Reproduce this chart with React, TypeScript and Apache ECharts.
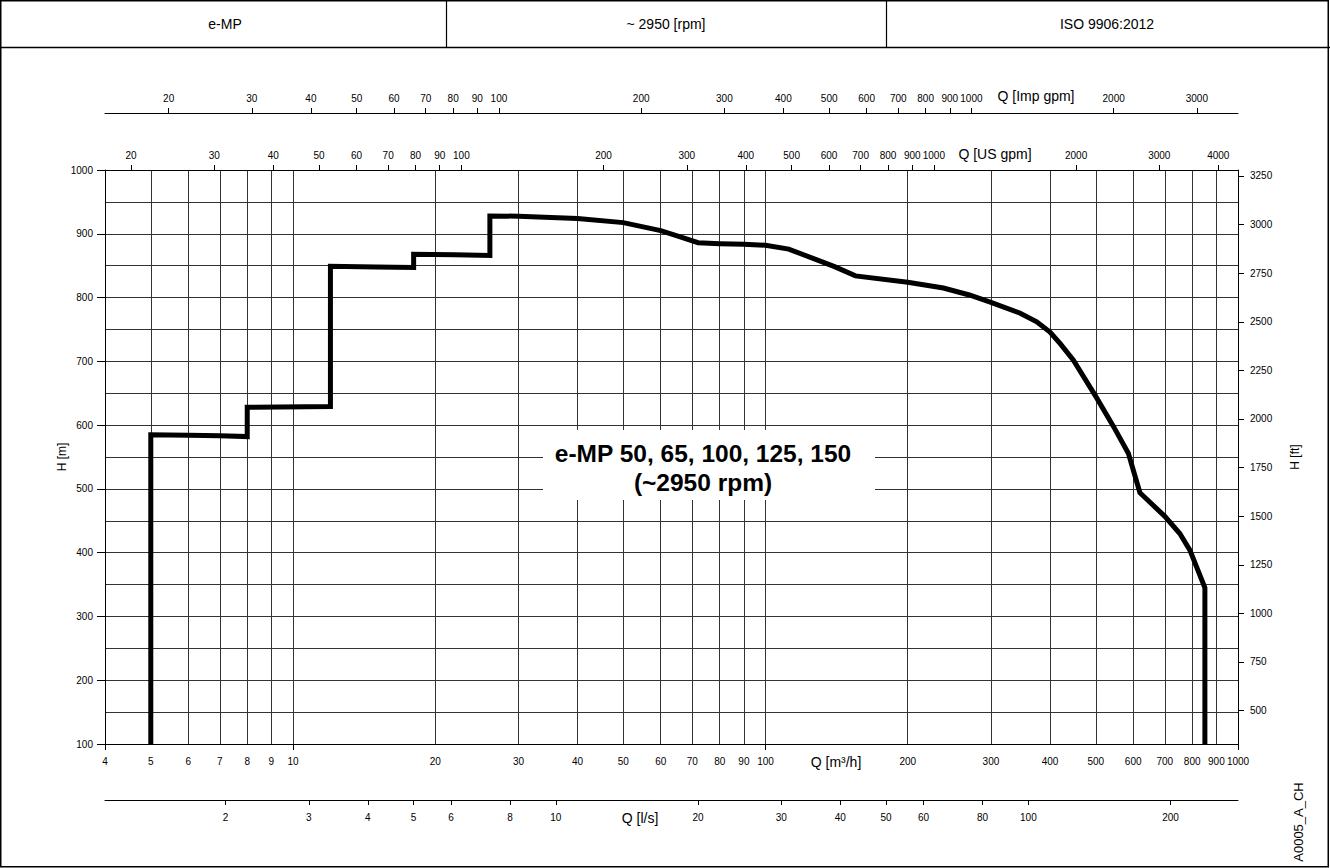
import { useEffect, useRef } from "react";
import * as echarts from "echarts";

const FONT = '"Liberation Sans", Arial, Helvetica, sans-serif';

// unit conversions (from m3/h and m)
const M3H_TO_USGPM = 4.40287;
const M3H_TO_IMPGPM = 3.66615;
const M3H_TO_LS = 1 / 3.6;
const M_TO_FT = 3.28084;

const qMin = 4;
const qMax = 1000;
const hMin = 100;
const hMax = 1000;

const headerTitles = ["e-MP", "~ 2950 [rpm]", "ISO 9906:2012"];

// m3/h grid and labels
const m3hGrid = [5, 6, 7, 8, 9, 10, 20, 30, 40, 50, 60, 70, 80, 90, 100, 200, 300, 400, 500, 600, 700, 800, 900];
const m3hLabels = [4, 5, 6, 7, 8, 9, 10, 20, 30, 40, 50, 60, 70, 80, 90, 100, 200, 300, 400, 500, 600, 700, 800, 900, 1000];
const m3hMajorTicks = [4, 10, 100, 1000];
const usGpmTicks = [20, 30, 40, 50, 60, 70, 80, 90, 100, 200, 300, 400, 500, 600, 700, 800, 900, 1000, 2000, 3000, 4000];
const impGpmTicks = [20, 30, 40, 50, 60, 70, 80, 90, 100, 200, 300, 400, 500, 600, 700, 800, 900, 1000, 2000, 3000];
const lsTicks = [2, 3, 4, 5, 6, 8, 10, 20, 30, 40, 50, 60, 80, 100, 200];
const ftTicks = [500, 750, 1000, 1250, 1500, 1750, 2000, 2250, 2500, 2750, 3000, 3250];

// envelope curve: Q [m3/h], H [m]
const flowQ = [
  5, 5, 6, 7, 8, 8, 12, 12, 15, 18, 18, 22, 26.1, 26.1, 30, 40, 50, 60, 65.5, 72, 80, 90, 100, 112, 140, 155,
  200, 238, 270, 300, 346, 375, 400, 420, 448, 500, 545, 586, 600, 620, 700, 753, 791, 851, 851,
];
const headH = [
  100, 585, 584, 583.5, 582, 628, 629, 849, 848, 847, 868, 867, 866, 928, 927.5, 924, 917.5, 905, 896, 886, 884.5,
  883.5, 882, 876, 848.5, 834, 824, 815, 804, 792.5, 775.5, 762, 746, 728, 702, 645, 598, 556, 530, 494, 457, 430,
  404, 345, 100,
];

const labelTitle = ["e-MP 50, 65, 100, 125, 150", "(~2950 rpm)"];
const unitLabels = {
  m3h: "Q [m³/h]",
  ls: "Q [l/s]",
  us: "Q [US gpm]",
  imp: "Q [Imp gpm]",
};

const fmt = (v: number) => String(Math.round(v));

export default function App() {
  const ref = useRef<HTMLDivElement>(null);

  useEffect(() => {
    if (!ref.current) return;
    const chart = echarts.init(ref.current, null, { renderer: "svg" });

    const axisLine = { show: true, lineStyle: { color: "#000", width: 1 } };
    const gridLine = { show: true, lineStyle: { color: "#333", width: 1, type: "solid" as const } };
    const tickLabel = { color: "#000", fontSize: 10, fontFamily: FONT };

    const option: any = {
      animation: false,
      textStyle: { fontFamily: FONT },
      grid: {
        left: 105,
        right: 92,
        top: 170,
        bottom: 124,
        containLabel: false,
        outerBoundsMode: "none",
      },
      xAxis: [
        {
          type: "log",
          min: qMin,
          max: qMax,
          position: "bottom",
          axisLine,
          axisTick: { show: false, customValues: m3hGrid },
          axisLabel: { ...tickLabel, margin: 12, customValues: m3hLabels, formatter: fmt },
          splitLine: gridLine,
        },
        {
          type: "log",
          min: qMin * M3H_TO_USGPM,
          max: qMax * M3H_TO_USGPM,
          position: "top",
          offset: 0,
          axisLine,
          axisTick: { show: true, inside: false, length: 5, customValues: usGpmTicks, lineStyle: { color: "#000" } },
          axisLabel: { ...tickLabel, margin: 10, customValues: usGpmTicks, formatter: fmt },
          splitLine: { show: false },
        },
        {
          type: "log",
          min: qMin * M3H_TO_IMPGPM,
          max: qMax * M3H_TO_IMPGPM,
          position: "top",
          offset: 57,
          axisLine,
          axisTick: { show: true, inside: false, length: 5, customValues: impGpmTicks, lineStyle: { color: "#000" } },
          axisLabel: { ...tickLabel, margin: 10, customValues: impGpmTicks, formatter: fmt },
          splitLine: { show: false },
        },
        {
          type: "log",
          min: qMin * M3H_TO_LS,
          max: qMax * M3H_TO_LS,
          position: "bottom",
          offset: 56,
          axisLine,
          axisTick: { show: true, inside: false, length: 5, customValues: lsTicks, lineStyle: { color: "#000" } },
          axisLabel: { ...tickLabel, margin: 12, customValues: lsTicks, formatter: fmt },
          splitLine: { show: false },
        },
        {
          type: "log",
          min: qMin,
          max: qMax,
          position: "bottom",
          offset: 0,
          axisLine: { show: false },
          axisTick: { show: true, inside: false, length: 6, customValues: m3hMajorTicks, lineStyle: { color: "#000" } },
          axisLabel: { show: false },
          splitLine: { show: false },
        },
      ],
      yAxis: [
        {
          type: "value",
          min: hMin,
          max: hMax,
          interval: 100,
          position: "left",
          name: "H [m]",
          nameLocation: "middle",
          nameGap: 37,
          nameRotate: 90,
          nameMoveOverlap: false,
          nameTextStyle: { color: "#000", fontSize: 12, fontFamily: FONT },
          axisLine,
          axisTick: { show: true, inside: false, length: 8, lineStyle: { color: "#000" } },
          axisLabel: { ...tickLabel, margin: 12, formatter: fmt },
          splitLine: gridLine,
          minorTick: { show: false, splitNumber: 2 },
          minorSplitLine: gridLine,
        },
        {
          type: "value",
          min: hMin * M_TO_FT,
          max: hMax * M_TO_FT,
          position: "right",
          name: "H [ft]",
          nameLocation: "middle",
          nameGap: 51,
          nameRotate: 90,
          nameMoveOverlap: false,
          nameTextStyle: { color: "#000", fontSize: 12, fontFamily: FONT },
          axisLine,
          axisTick: { show: true, inside: false, length: 6, customValues: ftTicks, lineStyle: { color: "#000" } },
          axisLabel: { ...tickLabel, margin: 12, customValues: ftTicks, formatter: fmt },
          splitLine: { show: false },
        },
      ],
      series: [
        {
          type: "line",
          xAxisIndex: 0,
          yAxisIndex: 0,
          data: flowQ.map((q, i) => [q, headH[i]]),
          showSymbol: false,
          symbol: "none",
          silent: true,
          z: 10,
          lineStyle: { color: "#000", width: 5, join: "miter", cap: "butt" },
        },
      ],
      graphic: [
        { type: "rect", silent: true, shape: { x: 0.75, y: 0.75, width: 1327.5, height: 866 }, style: { fill: "none", stroke: "#000", lineWidth: 1.5 } },
        { type: "line", silent: true, shape: { x1: 0, y1: 47.5, x2: 1330, y2: 47.5 }, style: { stroke: "#000", lineWidth: 1.5 } },
        { type: "line", silent: true, shape: { x1: 446.5, y1: 0, x2: 446.5, y2: 47.5 }, style: { stroke: "#000", lineWidth: 1.2 } },
        { type: "line", silent: true, shape: { x1: 886.5, y1: 0, x2: 886.5, y2: 47.5 }, style: { stroke: "#000", lineWidth: 1.2 } },
        ...headerTitles.map((t, i) => ({
          type: "text",
          silent: true,
          x: [225, 666, 1107][i],
          y: 24,
          style: { text: t, fill: "#000", fontSize: 14, fontFamily: FONT, align: "center", verticalAlign: "middle" },
        })),
        { type: "text", silent: true, x: 836, y: 762, style: { text: unitLabels.m3h, fill: "#000", fontSize: 14, fontFamily: FONT, align: "center", verticalAlign: "middle" } },
        { type: "text", silent: true, x: 640, y: 818, style: { text: unitLabels.ls, fill: "#000", fontSize: 14, fontFamily: FONT, align: "center", verticalAlign: "middle" } },
        { type: "text", silent: true, x: 995, y: 154, style: { text: unitLabels.us, fill: "#000", fontSize: 14, fontFamily: FONT, align: "center", verticalAlign: "middle" } },
        { type: "text", silent: true, x: 1036, y: 96, style: { text: unitLabels.imp, fill: "#000", fontSize: 14, fontFamily: FONT, align: "center", verticalAlign: "middle" } },
        { type: "rect", silent: true, z: 100, shape: { x: 543, y: 430, width: 332, height: 70 }, style: { fill: "#fff", stroke: "none" } },
        {
          type: "text", silent: true, z: 101, x: 703, y: 453,
          style: { text: labelTitle[0], fill: "#000", fontSize: 24.5, fontWeight: "bold", fontFamily: FONT, align: "center", verticalAlign: "middle" },
        },
        {
          type: "text", silent: true, z: 101, x: 703, y: 482,
          style: { text: labelTitle[1], fill: "#000", fontSize: 24.5, fontWeight: "bold", fontFamily: FONT, align: "center", verticalAlign: "middle" },
        },
        {
          type: "text", silent: true, x: 1298, y: 822, rotation: Math.PI / 2,
          style: { text: "A0005_A_CH", fill: "#000", fontSize: 13, fontFamily: FONT, align: "center", verticalAlign: "middle" },
        },
      ],
    };

    chart.setOption(option);
    return () => chart.dispose();
  }, []);

  return (
    <div
      ref={ref}
      style={{ position: "fixed", left: 0, top: 0, width: 1330, height: 868, background: "#fff" }}
    />
  );
}
